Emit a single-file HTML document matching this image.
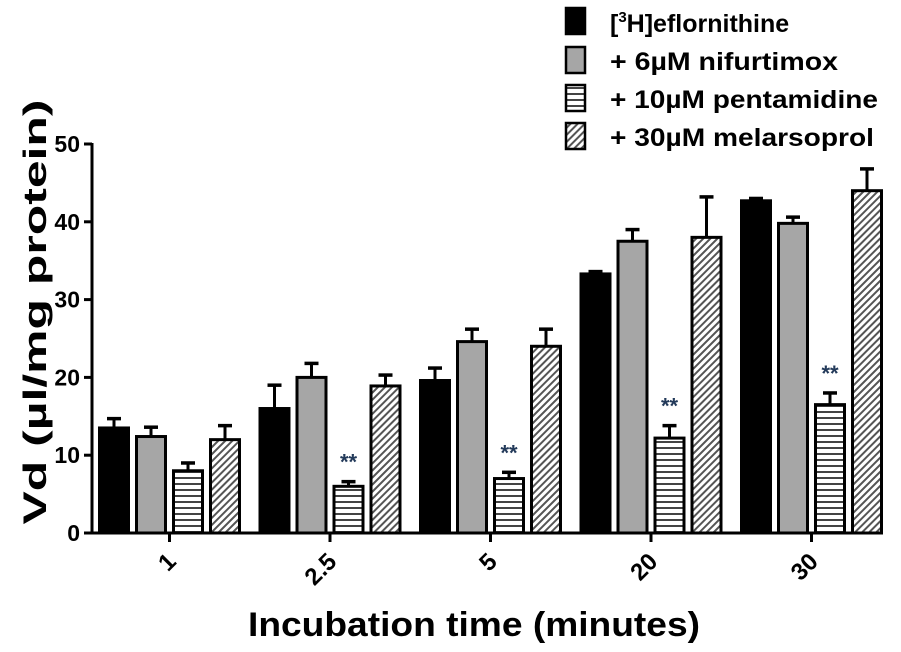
<!DOCTYPE html>
<html><head><meta charset="utf-8"><style>
body{margin:0;background:#fff;}
svg text{font-family:"Liberation Sans",Arial,sans-serif;font-weight:bold;}
</style></head><body>
<svg id="chart" width="901" height="647" viewBox="0 0 901 647" xmlns="http://www.w3.org/2000/svg">
<defs>
<pattern id="hstripe" width="6" height="6" patternUnits="userSpaceOnUse">
<rect width="6" height="6" fill="#fff"/><rect y="3" width="6" height="2" fill="#444"/></pattern>
<pattern id="dstripe" width="5" height="5" patternUnits="userSpaceOnUse" patternTransform="rotate(45)">
<rect width="5" height="5" fill="#fff"/><rect width="2" height="5" fill="#555"/></pattern>
</defs>
<g id="plot"></g>
<text transform="translate(46,312) rotate(-90)" text-anchor="middle" font-size="32" textLength="425" lengthAdjust="spacingAndGlyphs">Vd (µl/mg protein)</text>
<text x="474" y="636" text-anchor="middle" font-size="34" textLength="452" lengthAdjust="spacingAndGlyphs">Incubation time (minutes)</text>
<g>
<rect x="566" y="8" width="19" height="26" fill="#000" stroke="#000" stroke-width="2.5"/>
<text x="610" y="32" font-size="25">[<tspan font-size="15" dy="-10">3</tspan><tspan dy="10">H]eflornithine</tspan></text>
<rect x="566" y="47" width="19" height="26" fill="#a6a6a6" stroke="#000" stroke-width="2.5"/>
<text x="610" y="70" font-size="25" textLength="228" lengthAdjust="spacingAndGlyphs">+ 6µM nifurtimox</text>
<rect x="566" y="85" width="19" height="26" fill="url(#hstripe)" stroke="#000" stroke-width="2.5"/>
<text x="610" y="108" font-size="25" textLength="268" lengthAdjust="spacingAndGlyphs">+ 10µM pentamidine</text>
<rect x="566" y="123" width="19" height="26" fill="url(#dstripe)" stroke="#000" stroke-width="2.5"/>
<text x="610" y="146" font-size="25" textLength="264" lengthAdjust="spacingAndGlyphs">+ 30µM melarsoprol</text>
</g>
</svg>
<script>
const categories=["1","2.5","5","20","30"];
const eflornithine=[13.5,16,19.6,33.3,42.7];
const eflornithineErr=[1.2,3,1.6,0.3,0.3];
const nifurtimox=[12.4,20,24.6,37.5,39.8];
const nifurtimoxErr=[1.2,1.8,1.6,1.5,0.8];
const pentamidine=[8,6,7,12.2,16.5];
const pentamidineErr=[1,0.6,0.8,1.6,1.5];
const melarsoprol=[12,18.9,24,38,44];
const melarsoprolErr=[1.8,1.4,2.2,5.2,2.8];
const significant=[false,true,true,true,true];
const yTicks=[0,10,20,30,40,50];

const NS="http://www.w3.org/2000/svg";
const g=document.getElementById('plot');
const y0=533,y50=144;
function yScale(v){return y0-(v/50)*(y0-y50);}
function xCenter(i){return 169.5+i*160.5;}
function mk(tag,attrs){const e=document.createElementNS(NS,tag);for(const k in attrs)e.setAttribute(k,attrs[k]);g.appendChild(e);return e;}

const series=[
 {name:'eflornithine',vals:eflornithine,err:eflornithineErr,fill:'#000'},
 {name:'nifurtimox',vals:nifurtimox,err:nifurtimoxErr,fill:'#a6a6a6'},
 {name:'pentamidine',vals:pentamidine,err:pentamidineErr,fill:'url(#hstripe)'},
 {name:'melarsoprol',vals:melarsoprol,err:melarsoprolErr,fill:'url(#dstripe)'}
];
const bw=29,pitch=37;
categories.forEach((c,i)=>{
 const cx=xCenter(i);
 series.forEach((s,j)=>{
  const x=cx-70+j*pitch;
  const top=yScale(s.vals[i]);
  const et=yScale(s.vals[i]+s.err[i]);
  const mid=x+bw/2;
  const el=mk('line',{x1:mid,x2:mid,y1:top,y2:et,stroke:'#000','stroke-width':3});
  
  
  const cap=mk('line',{x1:mid-7,x2:mid+7,y1:et,y2:et,stroke:'#000','stroke-width':3.5});
  
  
  const r=mk('rect',{x:x,y:top,width:bw,height:y0-top,fill:s.fill,stroke:'#000','stroke-width':3});
  
  
  if(j===2&&significant[i]){
   const t=mk('text',{x:mid,y:et-12,'text-anchor':'middle','font-size':22,fill:'#233a5a'});
   t.textContent='**';
   
   
  }
 });
 const tk=mk('line',{x1:cx,x2:cx,y1:y0,y2:y0+9,stroke:'#000','stroke-width':3});
 
 
 const lb=mk('text',{x:cx+8,y:y0+30,'text-anchor':'end','font-size':24,transform:`rotate(-45 ${cx+8} ${y0+30})`});
 lb.textContent=c;
 
 
});
const ax=mk('line',{x1:92,x2:92,y1:y50-1,y2:y0+1.5,stroke:'#000','stroke-width':3});


const xa=mk('line',{x1:90.5,x2:880,y1:y0,y2:y0,stroke:'#000','stroke-width':3});


yTicks.forEach(v=>{
 const y=yScale(v);
 const t=mk('line',{x1:84,x2:92,y1:y,y2:y,stroke:'#000','stroke-width':3});
 
 
 const l=mk('text',{x:80,y:y+8,'text-anchor':'end','font-size':23});
 l.textContent=v;
 
 
});
</script>
</body></html>
